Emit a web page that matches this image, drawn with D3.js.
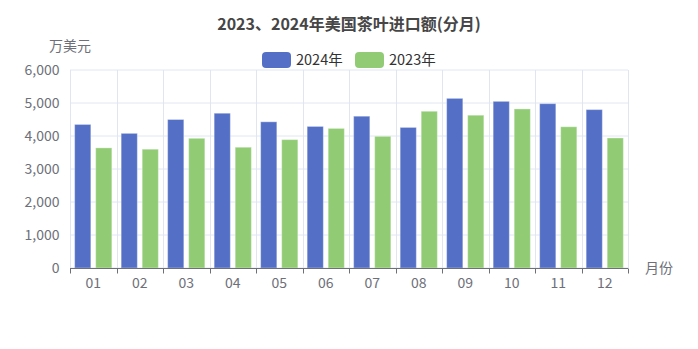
<!DOCTYPE html>
<html>
<head>
<meta charset="utf-8">
<script src="https://cdn.jsdelivr.net/npm/d3@7"></script>
<style>
  html, body { margin: 0; padding: 0; background: #fff; }
  svg { display: block; font-family: "Noto Sans CJK SC", "Noto Sans", sans-serif; }
</style>
</head>
<body>
<svg id="chart" width="698" height="349"></svg>
<script>
// Monthly US tea imports, 10k USD
const months = ["01","02","03","04","05","06","07","08","09","10","11","12"];
const seriesNames = ["2024年", "2023年"];
const values2024 = [4350, 4080, 4500, 4690, 4430, 4290, 4600, 4260, 5140, 5050, 4980, 4800];
const values2023 = [3640, 3600, 3930, 3660, 3890, 4230, 3990, 4750, 4630, 4820, 4280, 3940];
const yTicks = [0, 1000, 2000, 3000, 4000, 5000, 6000];
const colors = ["#5470c6", "#91cc75"];

const svg = d3.select("#chart");
const W = 698, H = 349;
const margin = { left: 70, right: 70, top: 70, bottom: 81 };
const plotW = W - margin.left - margin.right;
const plotH = H - margin.top - margin.bottom;

const x = d3.scaleBand().domain(months).range([margin.left, margin.left + plotW]).paddingInner(0).paddingOuter(0);
const y = d3.scaleLinear().domain([0, 6000]).range([margin.top + plotH, margin.top]);

// inner band for the two bars (20% category gap, 30% bar gap)
const inner = x.bandwidth() * 0.8;
const barW = inner / 2.3;
const barGap = barW * 0.3;
const offset0 = (x.bandwidth() - inner) / 2;

// horizontal split lines
svg.append("g").selectAll("line").data(yTicks).join("line")
  .attr("x1", margin.left).attr("x2", margin.left + plotW)
  .attr("y1", d => y(d)).attr("y2", d => y(d))
  .attr("stroke", "#E0E6F1").attr("stroke-width", 1);

// vertical split lines at category boundaries
const bounds = months.map(m => x(m)).concat([margin.left + plotW]);
svg.append("g").selectAll("line").data(bounds).join("line")
  .attr("x1", d => Math.round(d) + 0.5).attr("x2", d => Math.round(d) + 0.5)
  .attr("y1", margin.top).attr("y2", margin.top + plotH)
  .attr("stroke", "#E0E6F1").attr("stroke-width", 1);

// y-axis labels
svg.append("g").selectAll("text").data(yTicks).join("text")
  .attr("x", margin.left - 10.5).attr("y", d => y(d))
  .attr("dy", "0.35em").attr("text-anchor", "end")
  .attr("font-size", 14).attr("fill", "#6E7079")
  .text(d => d3.format(",")(d));

// bars
const series = [values2024, values2023];
series.forEach((vals, si) => {
  svg.append("g").selectAll("rect").data(months).join("rect")
    .attr("x", (m) => x(m) + offset0 + si * (barW + barGap))
    .attr("width", barW)
    .attr("y", (m, i) => y(vals[i]))
    .attr("height", (m, i) => y(0) - y(vals[i]))
    .attr("fill", colors[si])
    .attr("stroke", "rgba(255,255,255,0.35)")
    .attr("stroke-width", 1);
});

// x axis line and ticks
const base = Math.round(y(0)) + 0.5;
svg.append("line")
  .attr("x1", margin.left).attr("x2", margin.left + plotW)
  .attr("y1", base).attr("y2", base)
  .attr("stroke", "#6E7079").attr("stroke-width", 1);
svg.append("g").selectAll("line").data(bounds).join("line")
  .attr("x1", d => Math.round(d) + 0.5).attr("x2", d => Math.round(d) + 0.5)
  .attr("y1", base).attr("y2", base + 5)
  .attr("stroke", "#6E7079").attr("stroke-width", 1);

// x labels
svg.append("g").selectAll("text").data(months).join("text")
  .attr("x", m => x(m) + x.bandwidth() / 2).attr("y", base + 19)
  .attr("text-anchor", "middle")
  .attr("font-size", 14).attr("fill", "#6E7079")
  .text(m => m);

// axis names
svg.append("text").attr("x", margin.left).attr("y", 51)
  .attr("text-anchor", "middle").attr("font-size", 14).attr("fill", "#6E7079")
  .text("万美元");
svg.append("text").attr("x", margin.left + plotW + 17).attr("y", base)
  .attr("dy", "0.35em").attr("font-size", 14).attr("fill", "#6E7079")
  .text("月份");

// title
svg.append("text").attr("x", W / 2).attr("y", 30)
  .attr("text-anchor", "middle").attr("font-size", 16).attr("font-weight", "bold")
  .attr("fill", "#464646")
  .text("2023、2024年美国茶叶进口额(分月)");

// legend
const legendX = [262, 355];
seriesNames.forEach((name, i) => {
  const g = svg.append("g").attr("transform", `translate(${legendX[i]},52)`);
  g.append("rect").attr("width", 29).attr("height", 16).attr("rx", 4)
    .attr("fill", colors[i]);
  g.append("text").attr("x", 34).attr("y", 8).attr("dy", "0.35em")
    .attr("font-size", 14.5).attr("fill", "#333")
    .text(name);
});
</script>
</body>
</html>
